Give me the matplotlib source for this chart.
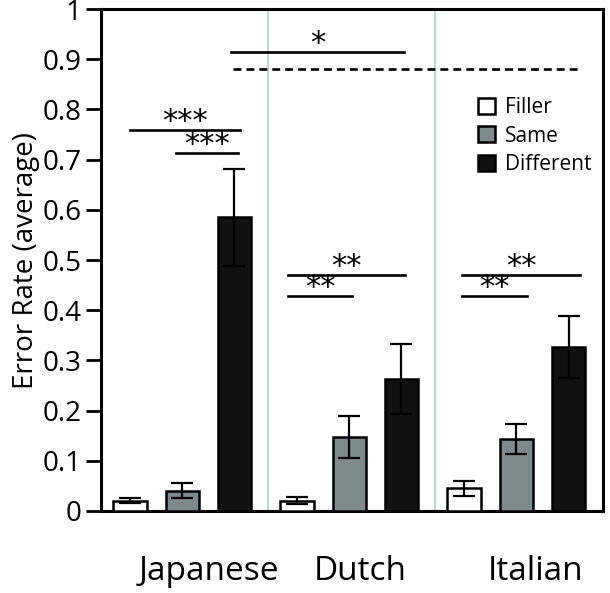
import matplotlib
matplotlib.use("Agg")
import matplotlib.pyplot as plt
import numpy as np
from matplotlib.patches import Patch
from matplotlib.ticker import FuncFormatter

plt.rcParams["font.family"] = ["Open Sans", "DejaVu Sans"]

# ======================== Data ========================
languages = ["Japanese", "Dutch", "Italian"]
conditions = ["Filler", "Same", "Different"]
filler = [0.020, 0.020, 0.045]
same = [0.040, 0.148, 0.143]
different = [0.585, 0.263, 0.327]
filler_err = [0.005, 0.007, 0.015]
same_err = [0.015, 0.042, 0.030]
different_err = [0.097, 0.070, 0.062]

# significance brackets: (x_start, x_end, y, label)
brackets = [
    (0.0, 2.1, 0.758, "***"),
    (0.88, 2.07, 0.713, "***"),
    (1.93, 5.25, 0.914, "*"),
    (3.03, 5.27, 0.470, "**"),
    (3.03, 4.25, 0.428, "**"),
    (6.36, 8.62, 0.470, "**"),
    (6.36, 7.60, 0.428, "**"),
]
chance_line = (1.97, 8.66, 0.880)

colors = ["white", "#7f8a8d", "#111111"]
group_gap = 3.2
bar_w = 0.64

fig = plt.figure(figsize=(6.1, 5.93), dpi=100)
ax = fig.add_axes([0.1656, 0.1383, 0.8229, 0.8465])

groups = np.arange(len(languages)) * group_gap
series = [(filler, filler_err), (same, same_err), (different, different_err)]
for j, (vals, errs) in enumerate(series):
    ax.bar(groups + j, vals, bar_w, color=colors[j], edgecolor="black",
           linewidth=1.8, zorder=3)
    ax.errorbar(groups + j, vals, yerr=errs, fmt="none", ecolor="black",
                elinewidth=1.6, capsize=8, capthick=1.6, zorder=4)

# separators between language groups
for g in groups[1:]:
    ax.axvline(g - 0.56, color="#c5d3d9", linewidth=1.5, zorder=1)

for x0, x1, y, lab in brackets:
    ax.plot([x0, x1], [y, y], color="black", linewidth=1.9)
    ax.text((x0 + x1) / 2, y + 0.001, lab, ha="center", va="baseline",
            fontsize=22, family=["DejaVu Sans"])

ax.plot([chance_line[0], chance_line[1]], [chance_line[2]] * 2,
        color="black", linewidth=1.9, linestyle=(0, (3.0, 1.9)))

ax.set_xlim(-0.556, 9.06)
ax.set_ylim(0, 1)
ax.set_yticks(np.arange(0, 1.01, 0.1))
ax.yaxis.set_major_formatter(FuncFormatter(lambda v, p: f"{v:.1g}" if v else "0"))
ax.tick_params(axis="y", direction="out", length=11, width=2, labelsize=20, pad=3)
ax.set_xticks([1.51, 4.41, 7.76])
ax.set_xticklabels(languages, fontsize=24)
ax.tick_params(axis="x", length=0, pad=32)
ax.set_ylabel("Error Rate (average)", fontsize=20, labelpad=2)
for s in ax.spines.values():
    s.set_linewidth(2.2)

handles = [Patch(facecolor=c, edgecolor="black", linewidth=1.8) for c in colors]
ax.legend(handles, conditions, loc="upper left", bbox_to_anchor=(0.73, 0.845),
          frameon=False, fontsize=15, handlelength=0.8, handleheight=0.8,
          handletextpad=0.5, labelspacing=0.35, borderpad=0)

fig.savefig("out.png", dpi=100)
